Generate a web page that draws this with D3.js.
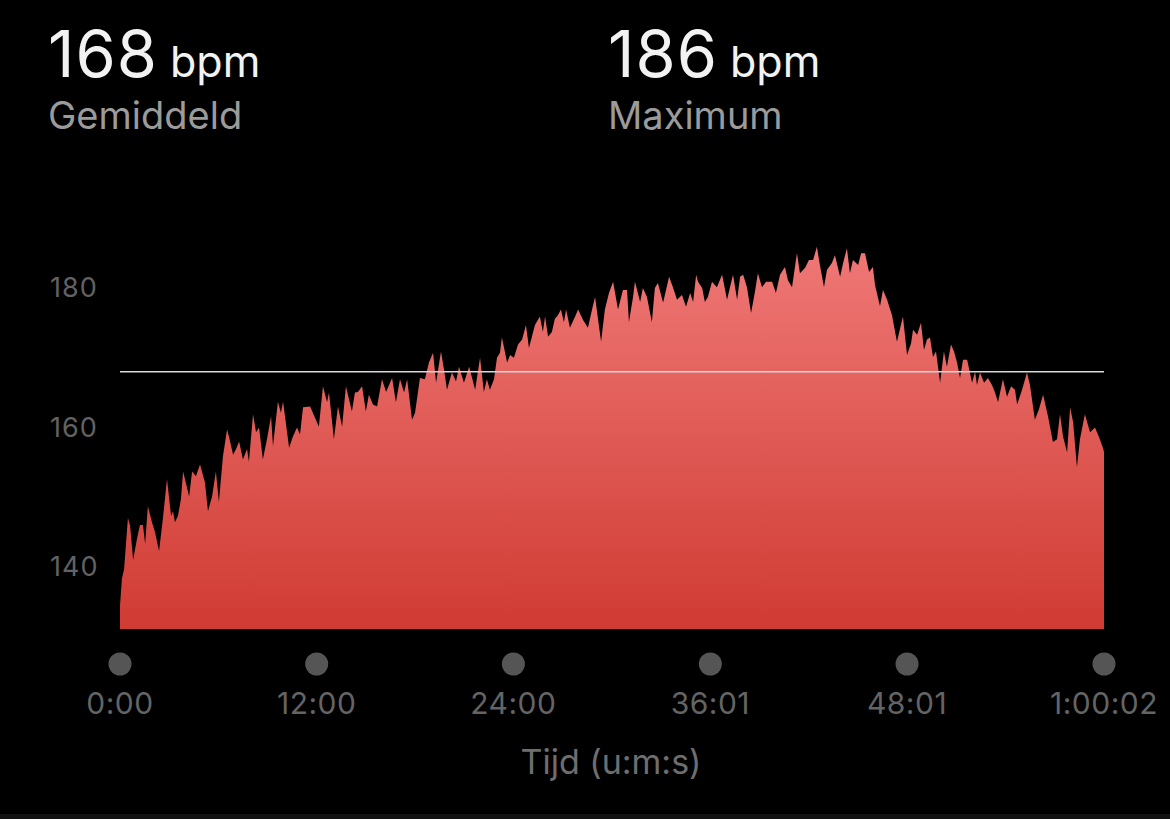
<!DOCTYPE html>
<html>
<head>
<meta charset="utf-8">
<script src="https://cdn.jsdelivr.net/npm/d3@7"></script>
<style>
  html, body { margin: 0; padding: 0; background: #000; }
  svg { display: block; }
  text { font-family: Inter, "Noto Sans", sans-serif; }
</style>
</head>
<body>
<div id="chart"></div>
<script>
// heart rate samples: time in seconds, bpm
var times = [0, 7, 15, 29, 37, 48, 62, 73, 84, 92, 102, 117, 128, 143, 157, 172, 187, 194, 201, 212,
  223, 231, 253, 264, 278, 293, 311, 322, 337, 351, 362, 377, 392, 403, 414, 425, 436, 450, 465, 472,
  487, 498, 509, 523, 538, 553, 560, 578, 589, 597, 619, 633, 648, 659, 670, 696, 707, 728, 743, 758,
  765, 783, 798, 813, 827, 849, 860, 871, 886, 900, 911, 926, 941, 959, 974, 996, 1010, 1025, 1040, 1051,
  1069, 1080, 1098, 1116, 1131, 1146, 1157, 1175, 1186, 1197, 1215, 1230, 1241, 1259, 1278, 1300, 1318, 1332, 1343, 1354,
  1369, 1380, 1391, 1398, 1417, 1428, 1442, 1457, 1472, 1486, 1497, 1519, 1537, 1548, 1556, 1567, 1581, 1592, 1603, 1614,
  1625, 1633, 1647, 1666, 1677, 1695, 1713, 1728, 1739, 1761, 1775, 1790, 1805, 1823, 1841, 1856, 1863, 1878, 1885, 1904,
  1914, 1929, 1947, 1958, 1969, 1988, 2010, 2024, 2039, 2057, 2072, 2087, 2098, 2109, 2116, 2131, 2141, 2152, 2167, 2185,
  2204, 2215, 2222, 2244, 2259, 2270, 2281, 2295, 2310, 2324, 2335, 2350, 2365, 2387, 2401, 2416, 2434, 2445, 2460, 2478,
  2489, 2508, 2522, 2537, 2551, 2562, 2577, 2588, 2606, 2617, 2636, 2647, 2661, 2672, 2683, 2702, 2713, 2727, 2742, 2756,
  2764, 2782, 2793, 2808, 2826, 2844, 2866, 2881, 2896, 2903, 2918, 2932, 2943, 2954, 2965, 2976, 2987, 3002, 3016, 3027,
  3042, 3053, 3064, 3075, 3086, 3101, 3119, 3130, 3137, 3148, 3163, 3177, 3192, 3203, 3214, 3232, 3247, 3262, 3276, 3284,
  3302, 3320, 3331, 3349, 3364, 3379, 3397, 3415, 3430, 3441, 3452, 3467, 3478, 3489, 3503, 3514, 3532, 3551, 3569, 3584,
  3598, 3602];

var bpm = [134.4, 138.3, 139.7, 147, 145.9, 141, 144, 146, 146, 143.3, 148.7, 146.4, 145, 142.3, 146.9, 152.6, 147.3, 148, 146.4, 147.3,
  149.7, 153.7, 150.1, 153.7, 153, 154.7, 152.1, 148, 150.1, 153.7, 149.3, 155.9, 159.7, 158, 156.1, 156.9, 158, 155.4, 156.9, 155.1,
  161.9, 159.3, 160, 155.4, 158.3, 161.6, 157.3, 163.7, 162.1, 163.7, 157.1, 158.7, 160, 159, 162.9, 163, 162, 160.1, 165.9, 163.6,
  165, 158.3, 163, 160.1, 165.9, 162.3, 165, 165.1, 165.9, 162.3, 164.7, 163.3, 163, 166.9, 165.1, 167.1, 163.6, 166.9, 165, 166.9,
  161.1, 162.1, 167.1, 166.9, 169.3, 170.7, 166.4, 170.9, 168.3, 165.4, 167.9, 166.6, 168.7, 166.4, 168.7, 165.4, 170, 165.1, 166.9, 165.4,
  166.9, 170, 170.7, 172.9, 169.3, 170.4, 170, 171.9, 172.6, 174.7, 171.4, 174.7, 175.9, 173.7, 175.9, 173, 173.7, 175.6, 176.1, 176.9,
  175.1, 176.9, 174.3, 175.9, 176.9, 175.4, 174.3, 176.9, 178.7, 172.3, 176.9, 179.3, 180.9, 176.9, 179.7, 179.7, 175.1, 178.7, 180.9, 178,
  180, 178.7, 175.1, 180, 180.7, 177.9, 181.6, 180.1, 178.3, 179, 177.3, 179.3, 178, 181.9, 180.9, 180, 178, 178.7, 180.9, 180.1,
  181.9, 179.7, 178.3, 181.9, 178.3, 181.6, 181.9, 180.1, 176.4, 179.4, 182.1, 180.1, 180.9, 180.9, 179.3, 181.9, 183, 181.1, 180.1, 185,
  182.1, 182.9, 184, 184, 185.9, 183.3, 180.1, 182.6, 183.6, 184.7, 181.6, 183.6, 185.7, 182.1, 184, 183.3, 185, 185, 182.3, 183,
  180.4, 177.4, 179.7, 178.3, 176.1, 172.3, 175.9, 170.4, 172.1, 174, 173.3, 175, 171.1, 172.6, 172.9, 170.1, 170.9, 166.4, 170.9, 168.7,
  171.9, 170.9, 169.3, 167.1, 169.7, 169.7, 166.4, 168, 166.1, 167.9, 166.4, 167.1, 166.1, 165, 163.6, 166.9, 164.4, 165.9, 165.4, 163.3,
  165.4, 167.9, 166.1, 161.1, 162.6, 164.7, 161.6, 157.9, 158.3, 161.9, 158.7, 156.4, 162.9, 160.7, 154.3, 158.3, 161.9, 159.3, 160, 158.6,
  157.1, 156.5];

var averageBpm = 168;
var maxBpm = 186;
var yTicks = [140, 160, 180];
var xTickTimes = [0, 720, 1440, 2161, 2881, 3602];
var xTickLabels = ["0:00", "12:00", "24:00", "36:01", "48:01", "1:00:02"];

var data = times.map(function(t, i) { return {t: t, v: bpm[i]}; });

var width = 1170, height = 819;

var svg = d3.select("#chart").append("svg")
    .attr("width", width)
    .attr("height", height);

svg.append("rect").attr("width", width).attr("height", height).attr("fill", "#000");
// thin grey strip along the very bottom edge
svg.append("rect").attr("y", 814).attr("width", width).attr("height", 5).attr("fill", "#121212");

// scales
var x = d3.scaleLinear().domain([0, 3602]).range([120, 1104]);
var y = d3.scaleLinear().domain([131.1, 180]).range([629, 288]);

// gradient fill
var grad = svg.append("defs").append("linearGradient")
    .attr("id", "hrFill")
    .attr("gradientUnits", "userSpaceOnUse")
    .attr("x1", 0).attr("x2", 0)
    .attr("y1", y(186)).attr("y2", y(131.1));
grad.append("stop").attr("offset", "0%").attr("stop-color", "#ef7876");
grad.append("stop").attr("offset", "100%").attr("stop-color", "#d03b33");

var area = d3.area()
    .x(function(d) { return x(d.t); })
    .y0(y(131.1))
    .y1(function(d) { return y(d.v); });

svg.append("path")
    .datum(data)
    .attr("fill", "url(#hrFill)")
    .attr("d", area);

// average line
svg.append("line")
    .attr("x1", x(0)).attr("x2", x(3602))
    .attr("y1", y(averageBpm)).attr("y2", y(averageBpm))
    .attr("stroke", "#d8d8d8")
    .attr("stroke-width", 1.5);

// y labels
svg.selectAll(".ylab")
    .data(yTicks)
  .enter().append("text")
    .attr("class", "ylab")
    .attr("x", 50)
    .attr("y", function(d) { return y(d); })
    .attr("dy", "0.35em")
    .attr("fill", "#626262")
    .style("font-size", "27px")
    .style("letter-spacing", "1px")
    .text(function(d) { return d; });

// x axis dots + labels
svg.selectAll(".xdot")
    .data(xTickTimes)
  .enter().append("circle")
    .attr("class", "xdot")
    .attr("cx", function(d) { return x(d); })
    .attr("cy", 664)
    .attr("r", 11.5)
    .attr("fill", "#555");

svg.selectAll(".xlab")
    .data(xTickTimes)
  .enter().append("text")
    .attr("class", "xlab")
    .attr("x", function(d) { return x(d); })
    .attr("y", 714)
    .attr("text-anchor", "middle")
    .attr("fill", "#646464")
    .style("font-size", "30px")
    .style("letter-spacing", "0.5px")
    .text(function(d, i) { return xTickLabels[i]; });

svg.append("text")
    .attr("x", 611)
    .attr("y", 774)
    .attr("text-anchor", "middle")
    .attr("fill", "#6e6e6e")
    .style("font-size", "34px")
    .text("Tijd (u:m:s)");

// header stats
function stat(x0, value, label) {
  var t = svg.append("text")
      .attr("x", x0)
      .attr("y", 77)
      .attr("fill", "#f2f2f2");
  t.append("tspan").style("font-size", "65px").style("letter-spacing", "1px").text(value);
  t.append("tspan").style("font-size", "43px").attr("dx", 12).text("bpm");
  svg.append("text")
      .attr("x", x0)
      .attr("y", 129)
      .attr("fill", "#9b9b9b")
      .style("font-size", "38px")
      .text(label);
}
stat(48, averageBpm, "Gemiddeld");
stat(608, maxBpm, "Maximum");
</script>
</body>
</html>
